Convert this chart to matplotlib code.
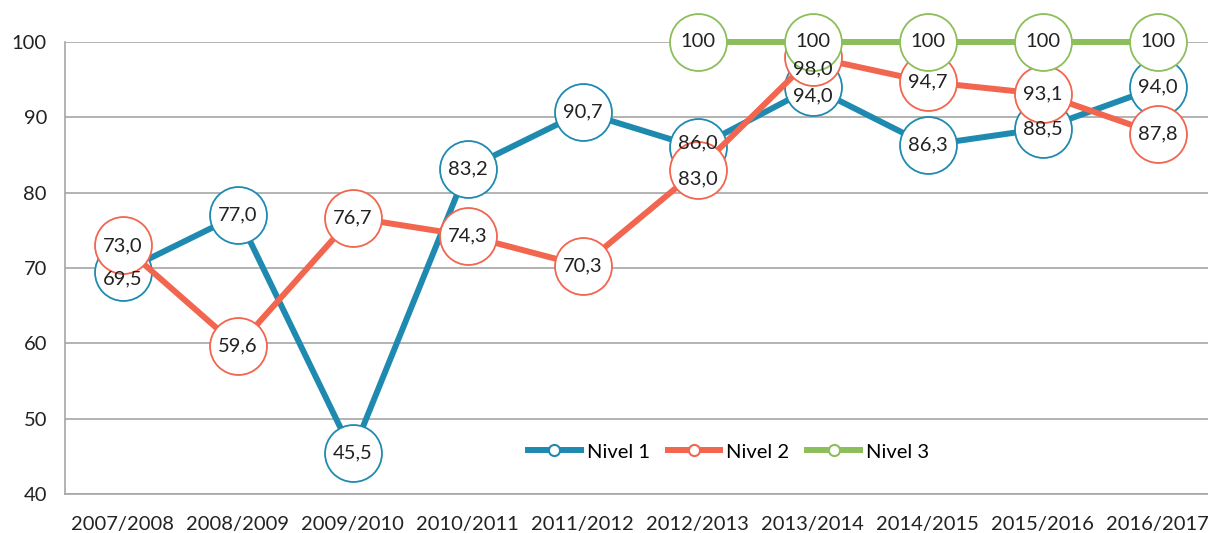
import matplotlib
matplotlib.use("Agg")
from matplotlib import pyplot as plt

years = ["2007/2008", "2008/2009", "2009/2010", "2010/2011", "2011/2012",
         "2012/2013", "2013/2014", "2014/2015", "2015/2016", "2016/2017"]
nivel1 = [69.5, 77.0, 45.5, 83.2, 90.7, 86.0, 94.0, 86.3, 88.5, 94.0]
nivel2 = [73.0, 59.6, 76.7, 74.3, 70.3, 83.0, 98.0, 94.7, 93.1, 87.8]
nivel3 = [None, None, None, None, None, 100, 100, 100, 100, 100]

# label nudges (pixels, down) where labels overlap
nudge = {("Nivel 1", 0): -7, ("Nivel 1", 5): 5, ("Nivel 1", 6): -9,
         ("Nivel 2", 5): -9, ("Nivel 2", 6): -12}

plt.rcParams["font.family"] = ["Lato", "DejaVu Sans"]

fig = plt.figure(figsize=(12.08, 5.33), dpi=100)
ax = fig.add_axes([65 / 1208, 1 - 494 / 533, 1150 / 1208, 452 / 533])

x = list(range(len(years)))
series = [
    ("Nivel 1", nivel1, "#1f8ab0", False),
    ("Nivel 2", nivel2, "#f2654e", False),
    ("Nivel 3", nivel3, "#8cbe5b", True),
]

for z, (name, vals, col, integer) in enumerate(series):
    xs = [i for i, v in zip(x, vals) if v is not None]
    ys = [v for v in vals if v is not None]
    ax.plot(xs, ys, "-", color=col, lw=4.3, solid_capstyle="round", zorder=3 + z,
            label=name, marker="o", ms=41, mfc="white", mec=col, mew=1.3,
            clip_on=False)

for name, vals, col, integer in series:
    for i, v in zip(x, vals):
        if v is None:
            continue
        txt = str(int(v)) if integer else f"{v:.1f}".replace(".", ",")
        ax.annotate(txt, (i, v), xytext=(0, nudge.get((name, i), 0)),
                    textcoords="offset pixels", ha="center", va="center",
                    fontsize=14.5, color="#222222", zorder=10, annotation_clip=False)

# legend with small markers
handles = []
for name, vals, col, integer in series:
    h, = ax.plot([], [], "-", color=col, lw=4.3, marker="o", ms=8, mfc="white",
                 mec=col, mew=1.5, label=name)
    handles.append(h)
ax.legend(handles=handles, loc="center", bbox_to_anchor=(0.577, 0.093), ncol=3,
          frameon=False, fontsize=14.5, handlelength=2.6, handletextpad=0.3,
          columnspacing=0.9)

ax.set_xlim(-0.5, 9.5)
ax.set_ylim(40, 100)
ax.set_yticks(range(40, 101, 10))
ax.set_xticks(x)
ax.set_xticklabels(years)
ax.tick_params(axis="both", length=0, labelsize=14.5, colors="#222222")
ax.tick_params(axis="x", pad=16)
ax.tick_params(axis="y", pad=13)
ax.grid(axis="y", color="#a6a6a6", lw=1.2)
ax.set_axisbelow(True)
for s in ["top", "right"]:
    ax.spines[s].set_visible(False)
ax.spines["left"].set_color("#a6a6a6")
ax.spines["bottom"].set_color("#a6a6a6")
ax.spines["left"].set_linewidth(1.2)
ax.spines["bottom"].set_linewidth(1.2)

fig.savefig("out.png", dpi=100)
